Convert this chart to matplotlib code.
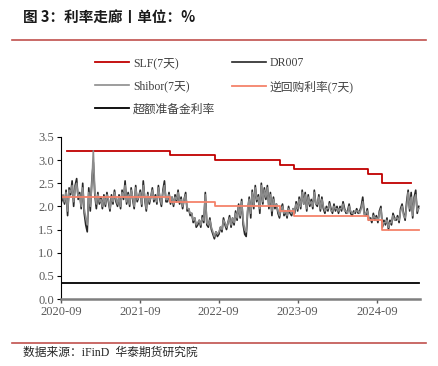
import matplotlib
matplotlib.use("Agg")
import matplotlib.pyplot as plt
import matplotlib.dates as mdates
import numpy as np
import pandas as pd

plt.rcParams['font.family'] = ['Noto Sans CJK SC', 'DejaVu Sans']

# weekly DR007 / Shibor(7D)
dr007 = [2.10, 2.20, 2.05, 2.35, 1.80, 2.40, 2.25, 2.55, 2.00, 2.45, 2.60, 2.15, 2.30, 1.95, 2.50, 1.85, 1.60,
         1.45, 2.40, 1.90, 2.55, 2.95, 2.25, 1.95, 2.30, 2.05, 2.20, 1.95, 2.25, 2.00, 2.30, 2.10,
         1.90, 2.25, 2.05, 2.35, 2.10, 2.00, 2.25, 1.95, 2.35, 2.15, 2.55, 2.05, 2.30, 2.00, 2.40,
         2.15, 1.95, 2.45, 2.10, 2.20, 2.35, 2.00, 2.55, 2.15, 1.90, 2.30, 2.05, 2.20, 2.40, 2.10,
         2.25, 2.05, 2.45, 2.15, 2.00, 2.35, 2.55, 2.10,
         2.10, 2.30, 2.05, 2.20, 2.00, 2.25, 2.10, 2.35, 2.05, 2.20, 1.95, 2.15, 2.30, 1.90, 1.95,
         1.80, 1.85, 1.65, 1.75, 1.55, 1.60, 1.70, 1.55, 1.80, 1.65, 2.30, 1.60, 1.55, 1.75, 1.50,
         1.40, 1.30, 1.45, 1.35, 1.40, 1.55, 1.45, 1.75, 1.60, 1.50, 1.65, 1.80, 1.55, 1.75, 1.60,
         1.90, 1.70, 2.05, 1.75, 2.15, 1.60, 1.40,
         1.35, 1.90, 2.20, 1.75, 2.35, 1.95, 2.45, 2.10, 2.25, 1.85, 2.50, 2.05, 2.40, 2.15, 2.45,
         1.95, 2.30, 1.80, 2.20, 1.95, 2.05, 1.85, 1.75, 1.95, 2.05, 1.80, 1.90, 1.75, 2.00, 1.85,
         1.80, 1.95, 1.85, 2.10, 1.90, 2.20, 1.95, 2.35, 2.05, 2.30, 1.90, 2.25, 2.00, 2.15, 1.95,
         2.35, 2.05, 2.00, 2.25, 1.90, 2.20, 1.95,
         1.85, 2.00, 1.90, 2.10, 1.95, 1.85, 2.05, 1.90, 2.00, 1.85, 2.00, 1.90, 2.10, 1.95, 1.85,
         1.90, 2.05, 1.85, 1.80, 1.90, 1.85, 1.95, 1.85, 1.90, 2.00, 2.20, 1.85, 1.80, 1.95, 1.70,
         1.75, 1.65, 1.85, 1.70, 1.80, 1.65, 1.90, 2.00, 1.55, 1.70, 1.60, 1.75, 1.50, 1.70, 1.60,
         1.85, 1.75, 1.70, 1.80, 1.65, 1.95, 2.05,
         1.85, 1.70, 2.10, 2.35, 1.90, 2.30, 1.75, 2.20, 2.35, 1.85, 2.00]

shibor = [2.15, 2.25, 2.10, 2.30, 1.90, 2.35, 2.30, 2.45, 2.10, 2.40, 2.50, 2.20, 2.25, 2.00, 2.40, 1.95, 1.75,
          1.60, 2.30, 2.00, 2.45, 3.20, 2.30, 2.05, 2.25, 2.10, 2.15, 2.00, 2.20, 2.05, 2.25, 2.15,
          1.95, 2.20, 2.10, 2.30, 2.15, 2.05, 2.20, 2.00, 2.30, 2.20, 2.45, 2.10, 2.25, 2.05, 2.35,
          2.20, 2.00, 2.40, 2.15, 2.20, 2.30, 2.05, 2.45, 2.20, 1.95, 2.25, 2.10, 2.20, 2.35, 2.15,
          2.20, 2.10, 2.40, 2.20, 2.05, 2.30, 2.45, 2.15,
          2.15, 2.25, 2.10, 2.20, 2.05, 2.20, 2.15, 2.30, 2.10, 2.15, 2.00, 2.15, 2.25, 1.95, 1.95,
          1.85, 1.85, 1.70, 1.75, 1.60, 1.65, 1.70, 1.60, 1.75, 1.70, 2.25, 1.65, 1.60, 1.70, 1.55,
          1.45, 1.35, 1.45, 1.40, 1.45, 1.55, 1.50, 1.70, 1.65, 1.55, 1.65, 1.75, 1.60, 1.75, 1.65,
          1.85, 1.75, 2.00, 1.80, 2.10, 1.70, 1.50,
          1.45, 1.95, 2.15, 1.85, 2.30, 2.00, 2.40, 2.15, 2.20, 1.95, 2.45, 2.10, 2.35, 2.20, 2.40,
          2.00, 2.25, 1.90, 2.15, 2.00, 2.05, 1.90, 1.80, 1.95, 2.00, 1.85, 1.90, 1.80, 1.95, 1.90,
          1.85, 1.95, 1.90, 2.05, 1.95, 2.15, 2.00, 2.30, 2.05, 2.25, 1.95, 2.20, 2.05, 2.10, 2.00,
          2.30, 2.05, 2.05, 2.20, 1.95, 2.15, 2.00,
          1.90, 1.95, 1.95, 2.05, 1.90, 1.90, 2.00, 1.95, 1.95, 1.90, 1.95, 1.95, 2.05, 1.90, 1.90,
          1.85, 2.00, 1.90, 1.85, 1.85, 1.90, 1.90, 1.90, 1.85, 1.95, 2.10, 1.80, 1.85, 1.90, 1.75,
          1.70, 1.70, 1.80, 1.75, 1.75, 1.70, 1.85, 1.95, 1.60, 1.65, 1.65, 1.70, 1.55, 1.65, 1.65,
          1.80, 1.70, 1.75, 1.75, 1.70, 1.90, 2.00,
          1.80, 1.75, 2.00, 2.30, 1.95, 2.20, 1.80, 2.15, 2.25, 1.90, 1.95]

dates = pd.date_range('2020-09-04', periods=len(dr007), freq='W-FRI')

slf_dates = ['2020-10-01', '2022-01-17', '2022-08-15', '2023-06-13', '2023-08-15', '2024-07-22', '2024-09-27', '2025-02-05']
slf_vals = [3.2, 3.1, 3.0, 2.9, 2.8, 2.7, 2.5, 2.5]
repo_dates = ['2020-09-04', '2022-01-17', '2022-08-15', '2023-06-13', '2023-08-15', '2024-07-22', '2024-09-27', '2025-03-14']
repo_vals = [2.2, 2.1, 2.0, 1.9, 1.8, 1.7, 1.5, 1.5]
excess_dates = ['2020-09-04', '2025-03-14']
excess_vals = [0.35, 0.35]

fig = plt.figure(figsize=(4.38, 3.66), dpi=100)
ax = fig.add_axes([0.139, 0.183, 0.82, 0.443])

l_slf, = ax.plot(pd.to_datetime(slf_dates), slf_vals, drawstyle='steps-post', color='#c00000', lw=1.3, label='SLF(7天)')
l_dr, = ax.plot(dates, dr007, color='#262626', lw=1.2, label='DR007')
l_sh, = ax.plot(dates, shibor, color='#8c8c8c', lw=1.2, label='Shibor(7天)')
l_repo, = ax.plot(pd.to_datetime(repo_dates), repo_vals, drawstyle='steps-post', color='#f4826a', lw=1.3, label='逆回购利率(7天)')
l_ex, = ax.plot(pd.to_datetime(excess_dates), excess_vals, color='black', lw=1.3, label='超额准备金利率')

ax.set_ylim(0, 3.5)
ax.set_yticks(np.arange(0, 3.51, 0.5))
ax.set_xlim(pd.Timestamp('2020-09-01'), pd.Timestamp('2025-03-20'))
ax.set_xticks(pd.to_datetime(['2020-09-01', '2021-09-01', '2022-09-01', '2023-09-01', '2024-09-01']))
ax.xaxis.set_major_formatter(mdates.DateFormatter('%Y-%m'))
for lab in ax.get_xticklabels() + ax.get_yticklabels():
    lab.set_family('Liberation Serif')
    lab.set_fontsize(9)
    lab.set_color('#595959')
ax.tick_params(axis='x', length=3, width=1, color='#595959', pad=2)
ax.tick_params(axis='y', length=3, width=0.8, color='black', pad=2)
for s in ['top', 'right']:
    ax.spines[s].set_visible(False)
ax.spines['bottom'].set_color('#7f7f7f')
ax.spines['bottom'].set_linewidth(1.8)
ax.spines['left'].set_color('black')
ax.spines['left'].set_linewidth(0.8)

# column-wise fill: left column SLF / Shibor / 超额, right column DR007 / 逆回购
hs = [l_slf, l_sh, l_ex, l_dr, l_repo]
fig.legend(hs, [h.get_label() for h in hs], loc='upper left', bbox_to_anchor=(0.193, 0.873), ncol=2, frameon=False,
           prop={'family': ['Liberation Serif', 'Noto Sans CJK SC'], 'size': 8.5},
           labelcolor='#404040', handlelength=2.9, columnspacing=1.4, labelspacing=0.95, handletextpad=0.3)

fig.text(0.052, 0.953, '图 3：利率走廊丨单位：%', fontsize=10.5, fontweight='bold', va='center', color='#1a1a1a')
fig.add_artist(plt.Line2D([0.027, 0.972], [0.892, 0.892], color='#c0504d', lw=1.2))
fig.add_artist(plt.Line2D([0.027, 0.972], [0.063, 0.063], color='#c0504d', lw=1.2))
fig.text(0.052, 0.035, '数据来源：iFinD  华泰期货研究院', fontsize=8.5, va='center', color='#262626',
         family=['Liberation Serif', 'Noto Sans CJK SC'])

fig.savefig('out.png', dpi=100)
